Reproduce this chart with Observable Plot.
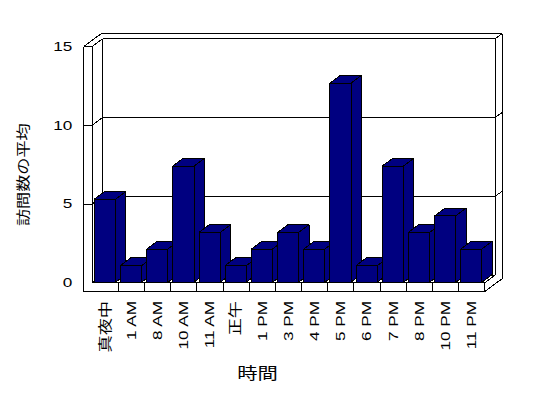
<!DOCTYPE html>
<html><head><meta charset="utf-8">
<script src="https://cdn.jsdelivr.net/npm/d3@7"></script>
<script src="https://cdn.jsdelivr.net/npm/@observablehq/plot@0.6"></script>
<style>
html,body{margin:0;padding:0;background:#fff;}
#chart{position:relative;width:548px;height:398px;overflow:hidden;}
#chart svg{position:absolute;left:0;top:0;}
</style></head><body><div id="chart"></div>
<script>
const categories = ["真夜中","1 AM","8 AM","10 AM","11 AM","正午","1 PM","3 PM","4 PM","5 PM","6 PM","7 PM","8 PM","10 PM","11 PM"];
const values = [5,1,2,7,3,1,2,3,2,12,1,7,3,4,2];
const yTicks = [0,5,10,15];
const gridValues = [5,10];
const yLabel = "訪問数の平均";
const xLabel = "時間";

const W = 548, H = 398;
const FONT = '"Liberation Sans", "Noto Sans CJK JP", sans-serif';
const BAR_COLOR = "#000080";
// front plane of the 3D box (pixels)
const FRONT_LEFT = 91.7, FRONT_RIGHT = 484.3, FRONT_BASE = 282.3, FRONT_TOP = 46;
// plane in which the columns are scaled (pixels)
const BAR_BASE = 282.2, BAR_TOP = 33.4;
const n = categories.length, yMax = 15;
const kx = (FRONT_RIGHT - FRONT_LEFT) / n;
const ky = (FRONT_BASE - FRONT_TOP) / yMax;
const kyb = (BAR_BASE - BAR_TOP) / yMax;
// depth offsets (pixels) converted to scale units
const ddx = 10.3 / kx, ddy = 7.7 / ky;      // floor depth
const tdx = 6.9 / kx, tdy = 5 / ky;         // back wall thickness
const w = 8.4 / kx, ft = 8.7 / ky;          // left wall / floor thickness
const bdy = 7.7 / kyb;                      // column depth in column units

const seg = (x1, y1, x2, y2) => ({x1, y1, x2, y2});
const segments = [
  seg(-w, -ft, -w, yMax),
  seg(0, 0, 0, yMax),
  seg(-w, yMax, 0, yMax),
  seg(-w, yMax, -w + ddx + tdx, yMax + ddy + tdy),
  seg(0, yMax, ddx, yMax + ddy),
  seg(ddx, yMax + ddy, n + ddx, yMax + ddy),
  seg(-w + ddx + tdx, yMax + ddy + tdy, n + ddx + tdx, yMax + ddy + tdy),
  seg(n + ddx, yMax + ddy, n + ddx + tdx, yMax + ddy + tdy),
  seg(n + ddx, ddy, n + ddx, yMax + ddy),
  seg(n + ddx + tdx, -ft + ddy + tdy, n + ddx + tdx, yMax + ddy + tdy),
  seg(-w, -ft, n, -ft),
  seg(0, 0, n, 0),
  seg(n, -ft, n, 0),
  seg(n, 0, n + ddx, ddy),
  seg(n, -ft, n + ddx + tdx, -ft + ddy + tdy),
  seg(ddx, ddy, n + ddx, ddy),
  seg(ddx, ddy, ddx, yMax + ddy),
  seg(0, 0, ddx, ddy)
];
for (const v of gridValues) {
  segments.push(seg(-w, v, 0, v));
  segments.push(seg(0, v, ddx, v + ddy));
  segments.push(seg(ddx, v + ddy, n + ddx, v + ddy));
  segments.push(seg(n + ddx, v + ddy, n + ddx + tdx, v + ddy + tdy));
}
for (let i = 1; i < n; i++) segments.push(seg(i, -ft, i, 0));

const frame = Plot.plot({
  width: W, height: H,
  marginLeft: FRONT_LEFT, marginRight: W - FRONT_RIGHT,
  marginTop: FRONT_TOP, marginBottom: H - FRONT_BASE,
  x: {domain: [0, n], axis: null},
  y: {domain: [0, yMax]},
  style: {fontFamily: FONT, fontSize: "13.5px", color: "black", background: "white"},
  marks: [
    Plot.link(segments, {x1: "x1", y1: "y1", x2: "x2", y2: "y2", stroke: "black", strokeWidth: 1, shapeRendering: "crispEdges"}),
    Plot.axisY(yTicks, {anchor: "left", tickSize: 0, tickPadding: 20, label: null, fontSize: 13.5, fill: "black"}),
    Plot.text(categories, {x: (d, i) => i + 0.5, y: -ft, rotate: -90, textAnchor: "end", lineAnchor: "middle", dy: 9.5, fontSize: 13.5, fill: "black"}),
    Plot.text([yLabel], {frameAnchor: "left", rotate: -90, textAnchor: "middle", lineAnchor: "middle", dx: -69, dy: 10, fontSize: 13.5, fill: "black"}),
    Plot.text([xLabel], {frameAnchor: "bottom", textAnchor: "middle", lineAnchor: "middle", dx: -31, dy: 91.5, fontSize: 16, fill: "black"})
  ]
});

const x1 = (i) => i + 0.1, x2 = (i) => i + 0.91;
const sidePts = [], topPts = [];
values.forEach((v, i) => {
  sidePts.push({i, x: x2(i), y1: 0, y2: v});
  sidePts.push({i, x: x2(i) + ddx, y1: bdy, y2: v + bdy});
  topPts.push({i, x: x1(i), y1: v, y2: v});
  topPts.push({i, x: x1(i) + ddx, y1: v, y2: v + bdy});
  topPts.push({i, x: x2(i), y1: v, y2: v + bdy});
  topPts.push({i, x: x2(i) + ddx, y1: v + bdy, y2: v + bdy});
});

const bars = Plot.plot({
  width: W, height: H,
  marginLeft: FRONT_LEFT, marginRight: W - FRONT_RIGHT,
  marginTop: BAR_TOP, marginBottom: H - BAR_BASE,
  x: {domain: [0, n], axis: null},
  y: {domain: [0, yMax], axis: null},
  style: {background: "transparent"},
  marks: [
    Plot.areaY(sidePts, {x: "x", y1: "y1", y2: "y2", z: "i", fill: BAR_COLOR, stroke: "black", strokeWidth: 1, curve: "linear", shapeRendering: "crispEdges"}),
    Plot.areaY(topPts, {x: "x", y1: "y1", y2: "y2", z: "i", fill: BAR_COLOR, stroke: "black", strokeWidth: 1, curve: "linear", shapeRendering: "crispEdges"}),
    Plot.rect(values, {x1: (d, i) => x1(i), x2: (d, i) => x2(i), y1: 0, y2: (d) => d, fill: BAR_COLOR, stroke: "black", strokeWidth: 1, shapeRendering: "crispEdges"})
  ]
});

// widen glyphs along the text direction, as in the original rendering
frame.querySelectorAll("text").forEach((t) => {
  const tr = t.getAttribute("transform") || "";
  t.setAttribute("transform", tr + " scale(1.27,1)");
});

const chart = document.getElementById("chart");
chart.appendChild(frame);
chart.appendChild(bars);
</script></body></html>
